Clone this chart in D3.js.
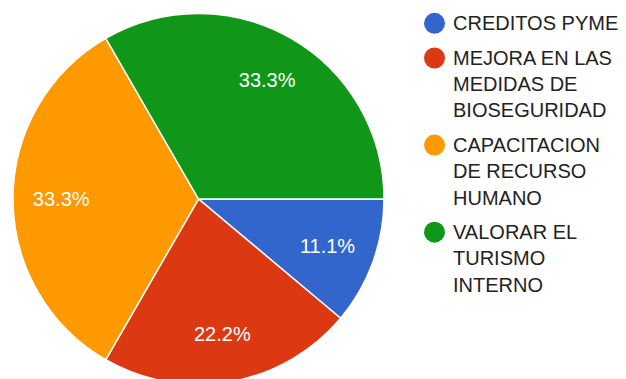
<!DOCTYPE html>
<html>
<head>
<meta charset="utf-8">
<script src="https://cdn.jsdelivr.net/npm/d3@7"></script>
<style>
  html, body { margin: 0; padding: 0; background: #fff; }
  svg { display: block; }
  text { font-family: Arial, "Liberation Sans", sans-serif; }
</style>
</head>
<body>
<svg id="chart" width="626" height="379"></svg>
<script>
const categories = [
  "CREDITOS PYME",
  "MEJORA EN LAS MEDIDAS DE BIOSEGURIDAD",
  "CAPACITACION DE RECURSO HUMANO",
  "VALORAR EL TURISMO INTERNO"
];
const values = [1, 2, 3, 3];
const colors = ["#3366cc", "#dc3912", "#ff9900", "#109618"];

const svg = d3.select("#chart");
const W = 626, H = 379;
const cx = 198.5, cy = 199, R = 185.5;

const data = categories.map((c, i) => ({ name: c, value: values[i], color: colors[i] }));
const total = d3.sum(values);

const pie = d3.pie().value(d => d.value).sort(null)
  .startAngle(Math.PI / 2).endAngle(Math.PI / 2 + 2 * Math.PI);
const arcs = pie(data);
const arc = d3.arc().innerRadius(0).outerRadius(R);
const labelArc = d3.arc().innerRadius(R * 0.74).outerRadius(R * 0.74);

const g = svg.append("g").attr("transform", `translate(${cx},${cy})`);
g.selectAll("path").data(arcs).join("path")
  .attr("d", arc)
  .attr("fill", d => d.data.color)
  .attr("stroke", "#fff")
  .attr("stroke-width", 1.5);

const fmt = d3.format(".1%");
g.selectAll("text.lbl").data(arcs).join("text")
  .attr("class", "lbl")
  .attr("transform", d => `translate(${labelArc.centroid(d)})`)
  .attr("text-anchor", "middle")
  .attr("dy", 7)
  .attr("font-size", 20)
  .attr("fill", "#ffffff")
  .text(d => fmt(d.data.value / total));

// Legend
const legX = 434.5, textX = 453, startY = 23.3, lineH = 26.2, gap = 8.5, maxW = 172;
const leg = svg.append("g");
let y = startY;
data.forEach(d => {
  const item = leg.append("g");
  item.append("circle").attr("cx", legX).attr("cy", y).attr("r", 10.5).attr("fill", d.color);
  // wrap text
  const words = d.name.split(" ");
  const lines = [];
  let cur = "";
  const probe = leg.append("text").attr("font-size", 20);
  words.forEach(w => {
    const test = cur ? cur + " " + w : w;
    probe.text(test);
    if (probe.node().getComputedTextLength() > maxW && cur) {
      lines.push(cur);
      cur = w;
    } else cur = test;
  });
  if (cur) lines.push(cur);
  probe.remove();
  lines.forEach((ln, k) => {
    item.append("text")
      .attr("x", textX)
      .attr("y", y + k * lineH)
      .attr("dy", 7)
      .attr("font-size", 20)
      .attr("fill", "#222222")
      .text(ln);
  });
  y += lines.length * lineH + gap;
});
</script>
</body>
</html>
